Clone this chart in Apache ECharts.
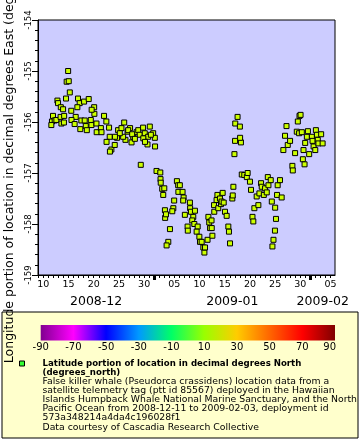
<!DOCTYPE html>
<html><head><meta charset="utf-8">
<script src="https://cdn.jsdelivr.net/npm/echarts@6/dist/echarts.min.js"></script>
<style>html,body{margin:0;padding:0;background:#fff}#c{width:360px;height:440px}</style>
</head><body><div id="c"></div>
<script>
// ---- data ----
const times = [
'2008-12-14 22:00','2008-12-14 15:00','2008-12-15 01:00','2008-12-15 06:00','2008-12-14 12:00','2008-12-12 19:00','2008-12-12 22:00','2008-12-13 11:00','2008-12-13 22:00','2008-12-11 22:00',
'2008-12-11 17:00','2008-12-12 06:00','2008-12-12 14:00','2008-12-13 10:00','2008-12-14 03:00','2008-12-13 14:00','2008-12-14 02:00','2008-12-15 13:00','2008-12-16 10:00','2008-12-15 14:00',
'2008-12-16 05:00','2008-12-16 21:00','2008-12-17 05:00','2008-12-16 18:00','2008-12-18 02:00','2008-12-19 00:00','2008-12-17 13:00','2008-12-18 05:00','2008-12-18 10:00','2008-12-19 10:00',
'2008-12-17 08:00','2008-12-18 15:00','2008-12-19 13:00','2008-12-20 02:00','2008-12-20 03:00','2008-12-19 14:00','2008-12-20 13:00','2008-12-20 14:00','2008-12-21 10:00','2008-12-22 01:00',
'2008-12-22 12:00','2008-12-21 13:00','2008-12-23 01:00','2008-12-23 04:00','2008-12-22 13:00','2008-12-23 12:00','2008-12-23 05:00','2008-12-24 04:00','2008-12-24 15:00','2008-12-24 20:00',
'2008-12-26 01:00','2008-12-25 12:00','2008-12-26 17:00','2008-12-26 07:00','2008-12-27 05:00','2008-12-27 20:00','2008-12-28 12:00','2008-12-27 12:00','2008-12-28 20:00','2008-12-29 03:00',
'2008-12-29 19:00','2008-12-30 03:00','2008-12-31 03:00','2008-12-30 19:00','2008-12-31 19:00','2009-01-01 03:00','2008-12-30 16:00','2009-01-01 04:00','2008-12-29 08:00','2008-12-26 20:00',
'2008-12-27 15:00','2008-12-28 04:00','2008-12-25 20:00','2008-12-25 04:00','2008-12-24 05:00','2008-12-29 20:00','2008-12-30 04:00','2008-12-31 08:00','2008-12-11 14:00','2009-01-01 11:00',
'2009-01-02 05:00','2009-01-02 06:00','2009-01-02 07:00','2009-01-02 14:00','2009-01-03 00:00','2009-01-02 19:00','2009-01-03 03:00','2009-01-03 04:00','2009-01-03 08:00','2009-01-04 03:00',
'2009-01-03 19:00','2009-01-03 11:00','2009-01-04 23:00','2009-01-04 19:00','2009-01-04 14:00','2009-01-05 12:00','2009-01-05 18:00','2009-01-06 02:00','2009-01-05 19:00','2009-01-06 15:00',
'2009-01-06 20:00','2009-01-06 18:00','2009-01-07 02:00','2009-01-07 15:00','2009-01-07 16:00','2009-01-08 02:00','2009-01-08 03:00','2009-01-08 07:00','2009-01-08 18:00','2009-01-08 13:00',
'2009-01-09 02:00','2009-01-08 23:00','2009-01-09 15:00','2009-01-09 10:00','2009-01-09 23:00','2009-01-10 02:00','2009-01-10 10:00','2009-01-10 18:00','2009-01-10 23:00','2009-01-11 02:00',
'2009-01-11 14:00','2009-01-11 18:00','2009-01-11 22:00','2009-01-12 02:00','2009-01-12 10:00','2009-01-12 13:00','2009-01-12 09:00','2009-01-12 22:00','2009-01-12 21:00','2009-01-13 09:00',
'2009-01-13 13:00','2009-01-13 17:00','2009-01-14 06:00','2009-01-14 01:00','2009-01-14 14:00','2009-01-14 09:00','2009-01-14 19:00','2009-01-15 01:00','2009-01-15 09:00','2009-01-15 17:00',
'2009-01-15 20:00','2009-01-16 01:00','2009-01-16 12:00','2009-01-16 14:00','2009-01-16 17:00','2009-01-16 22:00','2009-01-17 01:00','2009-01-18 05:00','2009-01-18 01:00','2009-01-17 02:00',
'2009-01-17 13:00','2009-01-18 00:00','2009-01-18 09:00','2009-01-18 21:00','2009-01-19 09:00','2009-01-19 13:00','2009-01-20 00:00','2009-01-20 05:00','2009-01-20 12:00','2009-01-20 16:00',
'2009-01-20 21:00','2009-01-21 16:00','2009-01-21 08:00','2009-01-21 21:00','2009-01-22 05:00','2009-01-22 08:00','2009-01-22 18:00','2009-01-23 00:00','2009-01-23 08:00','2009-01-23 13:00',
'2009-01-23 16:00','2009-01-24 03:00','2009-01-24 08:00','2009-01-25 00:00','2009-01-25 04:00','2009-01-24 23:00','2009-01-24 16:00','2009-01-24 11:00','2009-01-25 09:00','2009-01-25 12:00',
'2009-01-25 23:00','2009-01-26 07:00','2009-01-26 15:00','2009-01-26 23:00','2009-01-27 06:00','2009-01-27 12:00','2009-01-27 23:00','2009-01-28 10:00','2009-01-28 12:00','2009-01-28 23:00',
'2009-01-29 12:00','2009-01-29 20:00','2009-01-30 01:00','2009-01-29 07:00','2009-01-29 18:00','2009-01-30 07:00','2009-01-30 15:00','2009-01-30 12:00','2009-01-30 20:00','2009-01-30 23:00',
'2009-01-31 07:00','2009-01-31 12:00','2009-01-31 18:00','2009-02-01 07:00','2009-02-01 15:00','2009-02-01 10:00','2009-02-01 23:00','2009-02-02 02:00','2009-02-02 07:00','2009-02-02 11:00',
'2009-02-02 14:00','2009-02-03 03:00','2009-02-03 10:00'
];
const lons = [
-155.00,-155.21,-155.20,-155.42,-155.54,-155.58,-155.63,-155.71,-155.75,-155.88,
-155.99,-155.97,-155.96,-155.90,-155.88,-156.03,-156.01,-155.78,-155.90,-155.96,
-156.04,-155.54,-155.63,-155.71,-155.60,-155.55,-155.97,-155.97,-156.08,-155.96,
-156.14,-156.16,-156.06,-155.71,-155.84,-155.76,-156.03,-156.20,-156.12,-155.88,
-155.99,-156.20,-156.11,-156.29,-156.39,-156.54,-156.58,-156.45,-156.31,-156.16,
-156.01,-156.12,-156.19,-156.35,-156.12,-156.29,-156.20,-156.40,-156.16,-156.25,
-156.11,-156.22,-156.09,-156.29,-156.22,-156.31,-156.44,-156.48,-156.84,-156.16,
-156.24,-156.33,-156.29,-156.22,-156.29,-156.32,-156.39,-156.25,-156.06,-156.96,
-156.99,-157.12,-157.19,-157.31,-157.30,-157.43,-157.73,-157.88,-157.81,-158.10,
-158.35,-158.42,-157.54,-157.69,-157.75,-157.16,-157.24,-157.24,-157.37,-157.37,
-157.48,-157.54,-157.82,-158.05,-158.13,-157.58,-157.69,-157.76,-157.86,-157.93,
-157.74,-158.00,-158.05,-158.15,-158.25,-158.35,-158.35,-158.46,-158.56,-158.46,
-158.31,-157.86,-157.97,-158.08,-158.08,-158.23,-157.93,-157.76,-157.63,-157.53,
-157.43,-157.69,-157.61,-157.50,-157.39,-157.56,-157.58,-157.76,-157.84,-158.05,
-158.15,-158.38,-157.50,-157.44,-157.27,-156.63,-156.37,-156.40,-156.31,-156.03,
-155.90,-156.09,-157.03,-157.04,-157.08,-157.00,-157.17,-157.33,-157.86,-157.95,
-157.69,-157.63,-157.46,-157.40,-157.20,-157.27,-157.43,-157.30,-157.38,-157.08,
-157.24,-157.14,-157.56,-157.68,-157.90,-158.13,-158.31,-158.44,-157.43,-157.24,
-157.14,-157.48,-156.55,-156.27,-156.08,-156.45,-156.37,-156.86,-156.95,-156.61,
-155.99,-155.88,-155.86,-156.19,-156.22,-156.20,-156.55,-156.73,-156.83,-156.41,
-156.29,-156.18,-156.63,-156.29,-156.48,-156.37,-156.55,-156.16,-156.25,-156.35,
-156.42,-156.24,-156.42
];
const xRange = ['2008-12-08 22:30', '2009-02-05 21:00'];
const yTicks = [-159, -158, -157, -156, -155, -154];
const dayLabels = ['2008-12-10','2008-12-15','2008-12-20','2008-12-25','2008-12-30','2009-01-05','2009-01-10','2009-01-15','2009-01-20','2009-01-25','2009-01-30','2009-02-05'];
const monthStarts = ['2008-12-01','2009-01-01','2009-02-01','2009-03-01'];
const monthLabels = ['2008-12','2009-01','2009-02'];
const colorTicks = [-90,-70,-50,-30,-10,10,30,50,70,90];
const colorStops = ['#800090','#ff00ff','#0000ff','#0099ff','#00ff66','#99ff00','#ffcc00','#ff6600','#ff0000','#800000'];
const yName = 'Longitude portion of location in decimal degrees East (degrees_east)';
const legendTitle = ['Latitude portion of location in decimal degrees North', '(degrees_north)'];
const legendLines = [
'False killer whale (Pseudorca crassidens) location data from a',
'satellite telemetry tag (ptt id 85567) deployed in the Hawaiian',
'Islands Humpback Whale National Marine Sanctuary, and the North',
'Pacific Ocean from 2008-12-11 to 2009-02-03, deployment id',
'573a348214a4da4c196028f1',
'Data courtesy of Cascadia Research Collective'
];

// ---- helpers ----
const DAY = 86400000;
function pt(s) { s = s.length === 10 ? s + ' 00:00' : s; return Date.parse(s.replace(' ', 'T') + ':00Z'); }
const xMin = pt(xRange[0]), xMax = pt(xRange[1]);
const data = times.map((t, i) => [pt(t), lons[i]]);
const dayTicks = [];
for (let d = Math.ceil(xMin / DAY) * DAY; d <= xMax; d += DAY) dayTicks.push(d);
const ms = monthStarts.map(pt);
const monthMid = [];
for (let i = 0; i < monthLabels.length; i++) {
  const a = Math.max(ms[i], xMin), b = Math.min(ms[i + 1], xMax);
  monthMid.push((a + b) / 2);
}
const monthTicks = ms.filter(v => v > xMin && v < xMax);
const pad = n => (n < 10 ? '0' : '') + n;

const FONT = 'DejaVu Sans';
const chart = echarts.init(document.getElementById('c'), null, { renderer: 'canvas' });

// colorbar legend geometry
const cbX = 40.7, cbW = 294.3, cbY = 325, cbH = 15.5;
const cbScale = v => cbX + (v - colorTicks[0]) / (colorTicks[colorTicks.length - 1] - colorTicks[0]) * cbW;
const graphics = [
  { type: 'rect', z: -10, shape: { x: 2, y: 312, width: 356, height: 126 }, style: { fill: '#ffffcc', stroke: '#000', lineWidth: 1 } },
  { type: 'rect', z: 5, shape: { x: cbX, y: cbY, width: cbW, height: cbH },
    style: { fill: { type: 'linear', x: 0, y: 0, x2: 1, y2: 0,
      colorStops: colorStops.map((c, i) => ({ offset: i / (colorStops.length - 1), color: c })) } } },
  { type: 'rect', z: 5, shape: { x: 19.5, y: 361, width: 5, height: 5 }, style: { fill: '#33ff33', stroke: '#000', lineWidth: 1 } }
];
colorTicks.forEach((v, i) => {
  const last = i === colorTicks.length - 1;
  graphics.push({ type: 'text', z: 5, x: last ? cbScale(v) + 1 : cbScale(v), y: 347.5,
    style: { text: String(v), font: '10px "' + FONT + '"', fill: '#000', align: last ? 'right' : 'center', verticalAlign: 'middle' } });
});
legendTitle.forEach((s, i) => {
  graphics.push({ type: 'text', z: 5, x: 42.5, y: 363.3 + i * 9.1,
    style: { text: s, font: 'bold 8.6px "' + FONT + '"', fill: '#000', align: 'left', verticalAlign: 'middle' } });
});
legendLines.forEach((s, i) => {
  graphics.push({ type: 'text', z: 5, x: 42.5, y: 381.6 + i * 9.1,
    style: { text: s, font: '9.3px "' + FONT + '"', fill: '#000', align: 'left', verticalAlign: 'middle',
      width: 316, overflow: 'truncate', ellipsis: '' } });
});

const blk = { color: '#000', width: 1 };
chart.setOption({
  animation: false,
  textStyle: { fontFamily: FONT },
  grid: { left: 38, top: 20, right: 25, bottom: 165, show: true, backgroundColor: '#ccccff',
    borderColor: '#000', borderWidth: 1, containLabel: false, outerBoundsMode: 'none' },
  xAxis: [
    { type: 'value', min: xMin, max: xMax, position: 'bottom', offset: 0,
      axisLine: { show: true, lineStyle: blk },
      axisTick: { show: true, customValues: dayTicks, length: 3, lineStyle: blk },
      axisLabel: { customValues: dayLabels.map(pt), formatter: v => pad(new Date(v).getUTCDate()),
        fontSize: 9.5, color: '#000', margin: 5 },
      splitLine: { show: false } },
    { type: 'value', min: xMin, max: xMax, position: 'bottom', offset: 0,
      axisLine: { show: false }, axisTick: { show: false },
      axisLabel: { customValues: monthMid, formatter: (v, i) => monthLabels[monthMid.indexOf(v)],
        fontSize: 12.5, color: '#000', margin: 20 },
      splitLine: { show: false } },
    { type: 'value', min: xMin, max: xMax, position: 'bottom', offset: 0,
      axisLine: { show: false },
      axisTick: { show: true, customValues: monthTicks, length: 5, lineStyle: { color: '#000', width: 3 } },
      axisLabel: { show: false }, splitLine: { show: false } }
  ],
  yAxis: { type: 'value', min: yTicks[0], max: yTicks[yTicks.length - 1], interval: 1,
    axisLine: { show: true, lineStyle: blk },
    axisTick: { show: true, length: 6, lineStyle: blk },
    minorTick: { show: true, splitNumber: 5, length: 3, lineStyle: blk },
    axisLabel: { rotate: 90, fontSize: 8.5, color: '#000', margin: 5 },
    splitLine: { show: false }, minorSplitLine: { show: false },
    name: yName, nameLocation: 'middle', nameGap: 19,
    nameTextStyle: { fontSize: 12.5, color: '#000', fontFamily: FONT } },
  graphic: graphics,
  series: [{
    type: 'scatter', xAxisIndex: 0, yAxisIndex: 0, data: data,
    symbol: 'rect', symbolSize: 5,
    itemStyle: { color: '#ccff00', borderColor: '#000', borderWidth: 1, opacity: 1 },
    emphasis: { disabled: true }
  }]
});
</script>
</body></html>
